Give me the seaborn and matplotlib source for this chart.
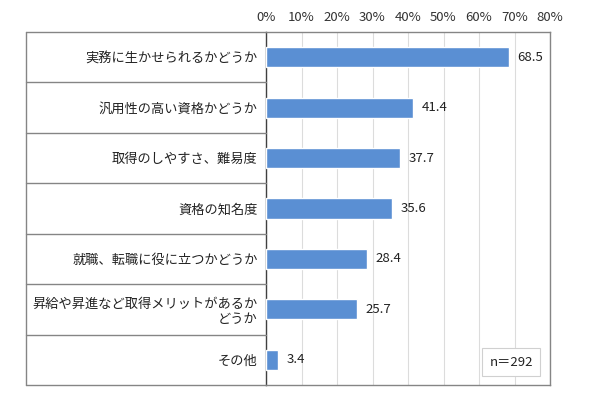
import matplotlib
matplotlib.use("Agg")
import matplotlib.pyplot as plt
import matplotlib.transforms as mtransforms
from matplotlib.ticker import FuncFormatter
import seaborn as sns
import pandas as pd

categories = [
    "実務に生かせられるかどうか",
    "汎用性の高い資格かどうか",
    "取得のしやすさ、難易度",
    "資格の知名度",
    "就職、転職に役に立つかどうか",
    "昇給や昇進など取得メリットがあるか\nどうか",
    "その他",
]
values = [68.5, 41.4, 37.7, 35.6, 28.4, 25.7, 3.4]
x_ticks = [0, 10, 20, 30, 40, 50, 60, 70, 80]
note = "n＝292"

sns.set_style("white")
plt.rcParams["font.family"] = ["Noto Sans CJK JP", "DejaVu Sans"]

W, H = 590, 400
fig = plt.figure(figsize=(W / 100, H / 100), dpi=100)
x0, x1, y0, y1 = 266, 550, 32, 385
ax = fig.add_axes([x0 / W, 1 - y1 / H, (x1 - x0) / W, (y1 - y0) / H])

df = pd.DataFrame({"cat": categories, "val": values})
sns.barplot(data=df, y="cat", x="val", orient="h", color="#5A8FD3",
            width=0.4, saturation=1, ax=ax, zorder=3)

ax.set_xlim(0, 80)
ax.set_ylim(len(categories) - 0.5, -0.5)
ax.set_xticks(x_ticks)
ax.xaxis.set_major_formatter(FuncFormatter(lambda v, p: f"{v:.0f}%"))
ax.xaxis.tick_top()
ax.tick_params(axis="x", length=0, pad=6, labelsize=9.5, colors="#333333")
ax.tick_params(axis="y", length=0, pad=6, labelsize=9.5, colors="#222222")
ax.set_xlabel("")
ax.set_ylabel("")
ax.grid(axis="x", color="#DCDCDC", linewidth=0.8, zorder=0)
ax.set_axisbelow(True)

for side in ["top", "right", "bottom"]:
    ax.spines[side].set_color("#858585")
    ax.spines[side].set_linewidth(1.0)
ax.spines["left"].set_color("#404040")
ax.spines["left"].set_linewidth(1.0)

for c in ax.containers:
    ax.bar_label(c, fmt="%.1f", padding=6, fontsize=9.5, color="#222222")

# table lines on the left
left_ax = (26 - x0) / (x1 - x0)
trans = mtransforms.blended_transform_factory(ax.transAxes, ax.transData)
for i in range(len(categories) + 1):
    yb = i - 0.5
    ax.plot([left_ax, 0], [yb, yb], transform=trans, color="#858585",
            linewidth=1.0, clip_on=False, zorder=4)
ax.plot([left_ax, left_ax], [-0.5, len(categories) - 0.5], transform=trans,
        color="#858585", linewidth=1.0, clip_on=False, zorder=4)

ax.text(0.94, 0.065, note, transform=ax.transAxes, ha="right", va="center",
        fontsize=9.5, color="#222222",
        bbox=dict(boxstyle="square,pad=0.55", facecolor="white",
                  edgecolor="#D0D0D0", linewidth=0.8), zorder=5)

fig.savefig("out.png", dpi=100)
